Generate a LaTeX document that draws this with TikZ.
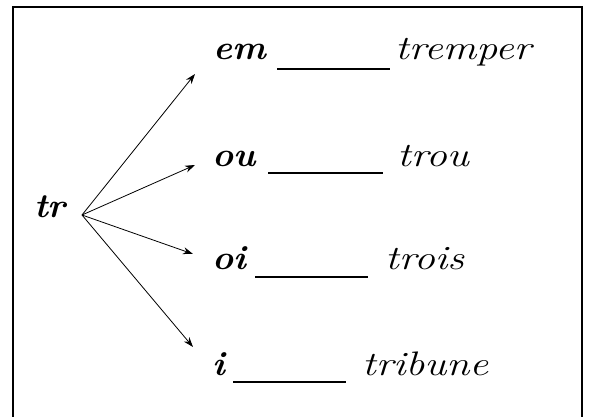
\documentclass[tikz,border=0pt]{standalone}
\usetikzlibrary{arrows.meta}
\newcommand{\widetxt}[1]{\scalebox{1.23}[1]{#1}}
\newcommand{\widebold}[1]{\scalebox{1.05}[1]{#1}}
\begin{document}
\begin{tikzpicture}[x=1pt,y=-1pt,
  lbl/.style={anchor=base west,inner sep=0pt,font=\fontsize{34}{38}\selectfont\itshape},
  blbl/.style={lbl,font=\fontsize{34}{38}\selectfont\bfseries\itshape},
  blank/.style={line width=2pt},
  arr/.style={line width=0.8pt,-{Stealth[length=10pt,width=7pt]}}]
\useasboundingbox (0,0) rectangle (590,417);
\draw[line width=1.5pt] (13,417) -- (13,7) -- (582,7) -- (582,417);
\node[blbl] (tr) at (34,218) {\widebold{tr}};
\coordinate (o) at (82,215);
\node[blbl] (em) at (213,60) {\widebold{em}};
\node[lbl] (tremper) at (395,60) {\widetxt{tremper}};
\node[blbl] (ou) at (212,167) {\widebold{ou}};
\node[lbl] (trou) at (397,167) {\widetxt{trou}};
\node[blbl] (oi) at (212,270) {\widebold{oi}};
\node[lbl] (trois) at (385,270) {\widetxt{trois}};
\node[blbl] (i) at (212,375) {\widebold{i}};
\node[lbl] (tribune) at (362,375) {\widetxt{tribune}};
\coordinate (t1) at (195,74);
\coordinate (t2) at (195,165);
\coordinate (t3) at (193,254);
\coordinate (t4) at (193,347);
\draw[arr] (o) -- (t1);
\draw[arr] (o) -- (t2);
\draw[arr] (o) -- (t3);
\draw[arr] (o) -- (t4);
\draw[blank] (277,69) -- (390,69);
\draw[blank] (268,173) -- (383,173);
\draw[blank] (255,277) -- (368,277);
\draw[blank] (233,382) -- (346,382);
\end{tikzpicture}
\end{document}
